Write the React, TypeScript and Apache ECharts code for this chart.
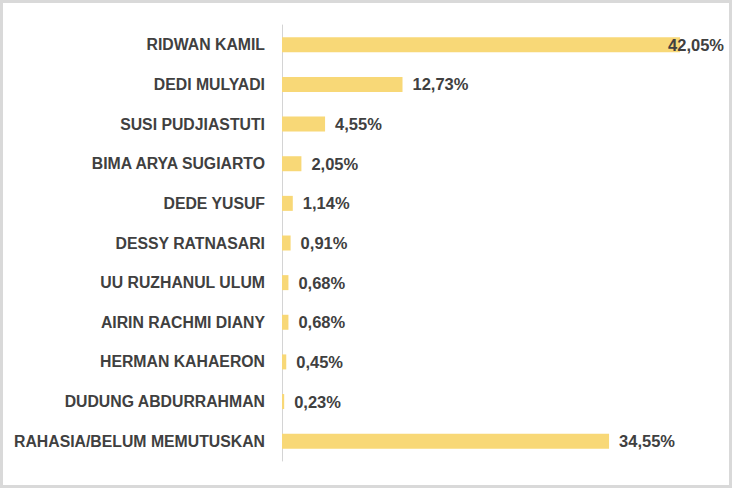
import * as echarts from "echarts";
import React, { useEffect, useRef } from "react";

const names = [
    "RIDWAN KAMIL",
    "DEDI MULYADI",
    "SUSI PUDJIASTUTI",
    "BIMA ARYA SUGIARTO",
    "DEDE YUSUF",
    "DESSY RATNASARI",
    "UU RUZHANUL ULUM",
    "AIRIN RACHMI DIANY",
    "HERMAN KAHAERON",
    "DUDUNG ABDURRAHMAN",
    "RAHASIA/BELUM MEMUTUSKAN",
];

const shares = [42.05, 12.73, 4.55, 2.05, 1.14, 0.91, 0.68, 0.68, 0.45, 0.23, 34.55];

const FONT = "'Liberation Sans', Arial, sans-serif";

const App: React.FC = () => {
    const chartRef = useRef<HTMLDivElement>(null);

    useEffect(() => {
        if (!chartRef.current) return;
        const chart = echarts.init(chartRef.current, undefined, { renderer: "svg" });

        chart.setOption({
            animation: false,
            grid: { left: 279, right: 21, top: 22, bottom: 24 },
            xAxis: {
                type: "value",
                min: 0,
                max: 45,
                show: false,
            },
            yAxis: {
                type: "category",
                inverse: true,
                data: names,
                axisTick: { show: false },
                axisLine: { lineStyle: { color: "#d4d4d4", width: 1 } },
                axisLabel: {
                    color: "#404040",
                    fontFamily: FONT,
                    fontWeight: "bold",
                    fontSize: 15.8,
                    margin: 17,
                },
            },
            series: [
                {
                    type: "bar",
                    barWidth: 15,
                    itemStyle: { color: "#f8d877" },
                    data: shares.map((v, i) => ({
                        value: v,
                        label: i === 0 ? { offset: [-22, 0] } : undefined,
                    })),
                    label: {
                        show: true,
                        position: "right",
                        distance: 10,
                        color: "#404040",
                        fontFamily: FONT,
                        fontWeight: "bold",
                        fontSize: 16.5,
                        formatter: (p: any) => p.value.toFixed(2).replace(".", ",") + "%",
                    },
                },
            ],
        });

        return () => chart.dispose();
    }, []);

    return (
        <div
            style={{
                position: "fixed",
                left: 0,
                top: 0,
                width: 732,
                height: 488,
                boxSizing: "border-box",
                border: "3px solid #d9d9d9",
                background: "#fff",
            }}
        >
            <div ref={chartRef} style={{ width: 726, height: 482 }} />
        </div>
    );
};

export default App;
